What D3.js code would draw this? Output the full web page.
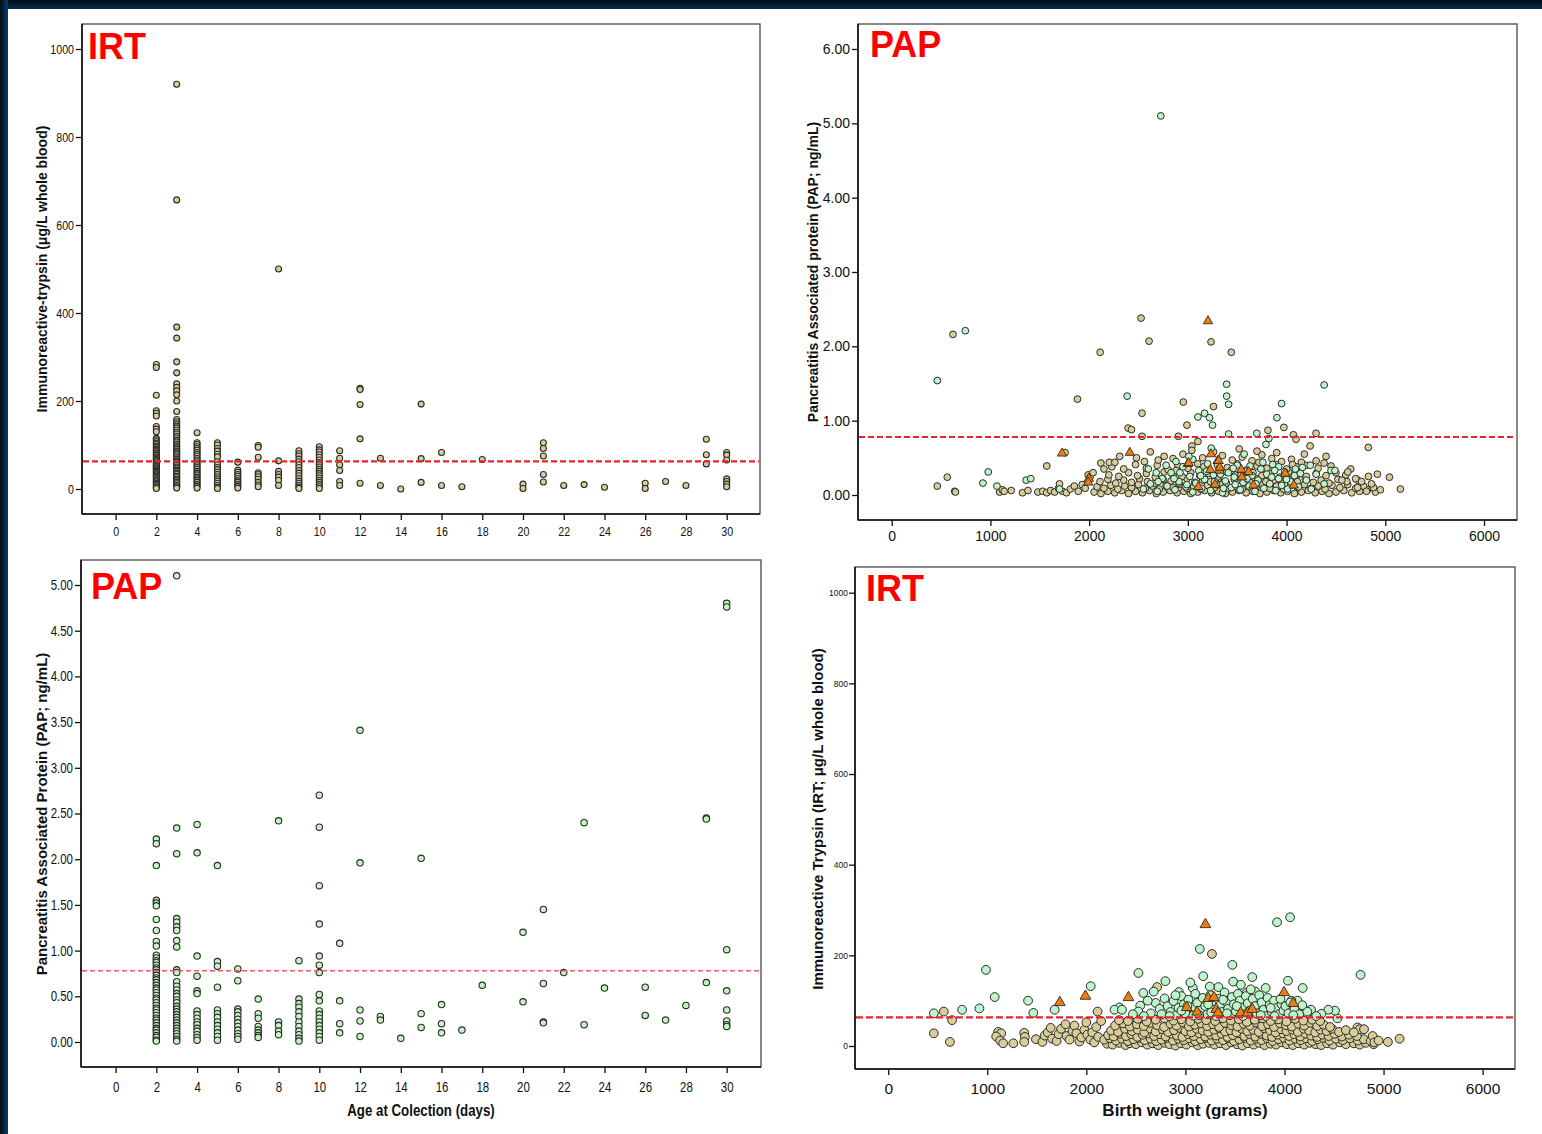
<!DOCTYPE html>
<html><head><meta charset="utf-8">
<script src="https://cdn.jsdelivr.net/npm/d3@7"></script>
<style>
body{margin:0;background:#fff}
svg{display:block}
text{font-family:"Liberation Sans",Arial,sans-serif}
</style>
</head><body><script>
// ---------- Age at collection panels ----------
const ages = [2,3,4,5,6,7,8,9,10,11,12,13,14,15,16,17,18,20,21,22,23,24,26,27,28,29,30];
const ageTicks = d3.range(0, 31, 2);

// IRT (µg/L) per collection age, same order as `ages`
const irtByAge = [
  [283,276,213,178,172,166,142,136,130,115,112,108,104,101,97,94,90,88,85,81,78,76,73,70,67,65,62,59,56,54,51,48,46,43,40,38,35,32,29,27,24,21,19,16,13,11,8,5,3,1],
  [920,657,368,343,289,264,239,231,223,214,200,176,158,153,148,143,139,134,129,125,120,116,111,107,102,98,94,90,86,82,79,75,71,68,64,61,57,54,50,47,43,40,36,33,29,26,22,19,15,12,8,5,2],
  [128,105,101,96,92,88,83,79,75,70,66,62,57,53,49,45,40,36,32,27,23,19,15,10,6,2],
  [105,100,92,86,79,73,62,55,49,44,38,33,28,23,18,13,8,4,1],
  [61,43,38,33,29,24,19,15,10,6,2],
  [99,95,72,37,33,28,22,15,9,5],
  [500,64,40,33,27,20,8],
  [87,80,75,68,62,55,49,42,36,30,24,18,13,8,4,1],
  [96,89,84,78,72,66,60,55,50,45,40,35,30,25,20,15,10,5,1],
  [87,70,55,42,17,8],
  [229,226,192,114,13],
  [70,8],
  [0],
  [193,69,15],
  [83,8],
  [5],
  [67],
  [11,1],
  [105,92,75,33,16],
  [8],
  [10],
  [4],
  [13,1],
  [17],
  [8],
  [113,78,57],
  [83,77,66,23,17,11,5]
];

// PAP (ng/mL) per collection age, same order as `ages`
const papByAge = [
  [2.22,2.17,1.93,1.55,1.52,1.49,1.34,1.22,1.10,1.05,0.95,0.92,0.89,0.87,0.84,0.81,0.79,0.76,0.73,0.70,0.68,0.65,0.62,0.59,0.57,0.54,0.51,0.48,0.46,0.43,0.40,0.37,0.35,0.32,0.29,0.26,0.24,0.21,0.18,0.15,0.13,0.10,0.07,0.05,0.02,0.01],
  [5.10,2.34,2.06,1.35,1.31,1.26,1.22,1.11,1.04,0.79,0.76,0.66,0.61,0.57,0.53,0.50,0.46,0.43,0.39,0.36,0.33,0.30,0.27,0.24,0.21,0.18,0.15,0.12,0.09,0.06,0.03,0.01],
  [2.38,2.07,0.94,0.72,0.56,0.53,0.34,0.30,0.26,0.22,0.19,0.15,0.12,0.08,0.05,0.02],
  [1.93,0.88,0.83,0.60,0.35,0.31,0.27,0.22,0.18,0.14,0.10,0.06,0.02],
  [0.80,0.67,0.36,0.33,0.29,0.25,0.21,0.17,0.13,0.09,0.06,0.03],
  [0.47,0.31,0.26,0.17,0.13,0.10,0.07,0.05],
  [2.42,0.22,0.18,0.12,0.08],
  [0.89,0.47,0.42,0.38,0.33,0.28,0.22,0.17,0.12,0.08,0.04,0.01],
  [2.70,2.35,1.71,1.29,0.94,0.84,0.76,0.52,0.45,0.34,0.30,0.26,0.22,0.18,0.14,0.10,0.06,0.02],
  [1.08,0.45,0.20,0.10],
  [3.41,1.96,0.35,0.23,0.06],
  [0.28,0.24],
  [0.04],
  [2.01,0.31,0.16],
  [0.41,0.20,0.10],
  [0.13],
  [0.62],
  [1.20,0.44],
  [1.45,0.64,0.22,0.21],
  [0.76],
  [2.40,0.19],
  [0.59],
  [0.60,0.29],
  [0.24],
  [0.40],
  [2.45,2.44,0.65],
  [4.80,4.76,1.01,0.56,0.35,0.23,0.19,0.17]
];

// ---------- Birth weight panels: [grams, value] ----------
const weightTicks = [0,1000,2000,3000,4000,5000,6000];

// PAP vs birth weight, IRT-negative newborns
const papWeightNeg = [
  [621,2.16],[2526,2.38],[3235,2.06],[2607,2.07],[2112,1.92],[3440,1.92],[1882,1.29],[2536,1.10],[2395,0.90],[2429,0.88],
  [2536,0.79],[2904,0.79],[2954,1.25],[2991,0.94],[3260,1.19],[3102,0.72],[3041,0.66],[3973,0.91],[3811,0.87],[4069,0.81],
  [4096,0.75],[4299,0.83],[4238,0.66],[4828,0.64],[1756,0.57],[462,0.12],[563,0.24],[638,0.05],[645,0.04],[1093,0.04],
  [1120,0.07],[1140,0.05],[1211,0.06],[1325,0.03],[1571,0.39],[5042,0.24],[5153,0.08],
  [1380,0.06],[1480,0.04],[1530,0.05],[1570,0.03],[1610,0.06],[1650,0.04],[1690,0.09],[1700,0.15],[1730,0.05],[1770,0.03],
  [1810,0.08],[1850,0.12],[1890,0.05],[1930,0.14],[1960,0.09],[1990,0.27],[2010,0.24],[2040,0.30],
  [2050,0.04],[2120,0.02],[2190,0.05],[2260,0.03],[2330,0.06],[2400,0.02],[2470,0.05],[2540,0.03],[2610,0.06],[2680,0.02],
  [2750,0.04],[2820,0.06],[2890,0.03],[2960,0.05],[3030,0.02],[3100,0.04],[3170,0.06],[3240,0.03],[3310,0.05],[3380,0.02],
  [3450,0.04],[3520,0.06],[3590,0.03],[3660,0.05],[3730,0.02],[3800,0.04],[3870,0.06],[3940,0.03],[4010,0.05],[4080,0.02],
  [4150,0.04],[4220,0.06],[4290,0.03],[4360,0.05],[4430,0.02],[4500,0.04],[4580,0.06],[4660,0.03],[4740,0.05],[4820,0.07],[4900,0.04],
  [2080,0.11],[2150,0.09],[2220,0.13],[2290,0.08],[2360,0.12],[2430,0.10],[2500,0.14],[2570,0.09],[2640,0.12],[2710,0.08],
  [2780,0.13],[2850,0.10],[2920,0.14],[2990,0.09],[3060,0.11],[3130,0.08],[3200,0.13],[3270,0.10],[3340,0.14],[3410,0.09],
  [3480,0.12],[3550,0.08],[3620,0.13],[3690,0.10],[3760,0.14],[3830,0.09],[3900,0.12],[3970,0.08],[4040,0.13],[4110,0.10],
  [4180,0.14],[4250,0.09],[4320,0.12],[4390,0.08],[4460,0.13],[4540,0.10],[4620,0.14],[4700,0.09],[4780,0.12],[4880,0.10],
  [2110,0.18],[2190,0.21],[2270,0.16],[2350,0.20],[2430,0.17],[2510,0.22],[2590,0.18],[2670,0.16],[2750,0.21],[2830,0.19],
  [2910,0.16],[2990,0.22],[3070,0.17],[3150,0.20],[3230,0.18],[3310,0.22],[3390,0.16],[3470,0.21],[3550,0.19],[3630,0.17],
  [3710,0.22],[3790,0.18],[3870,0.20],[3950,0.16],[4030,0.21],[4110,0.18],[4190,0.22],[4270,0.17],[4350,0.20],[4430,0.16],
  [4520,0.21],[4610,0.18],[4720,0.20],
  [2200,0.27],[2300,0.25],[2400,0.30],[2490,0.26],[2580,0.29],[2670,0.24],[2760,0.31],[2850,0.27],[2940,0.25],[3030,0.30],
  [3120,0.26],[3210,0.29],[3300,0.24],[3390,0.31],[3480,0.27],[3570,0.25],[3660,0.30],[3750,0.26],[3840,0.29],[3930,0.24],
  [4020,0.31],[4110,0.27],[4200,0.25],[4300,0.29],[4400,0.26],[4500,0.30],[4600,0.27],
  [2230,0.38],[2350,0.35],[2470,0.41],[2580,0.36],[2690,0.40],[2800,0.34],[2900,0.39],[3000,0.36],[3100,0.42],[3200,0.35],
  [3300,0.40],[3400,0.37],[3500,0.42],[3600,0.34],[3700,0.39],[3800,0.36],[3900,0.41],[4000,0.35],[4100,0.38],[4200,0.40],
  [4320,0.36],[4450,0.39],
  [2119,0.43],[2204,0.44],[2261,0.44],[2700,0.47],[2760,0.52],[2850,0.49],[2950,0.55],[3150,0.50],[3350,0.53],[3450,0.47],
  [3550,0.51],[3650,0.46],[3750,0.54],[3850,0.49],[3950,0.45],[4050,0.48],[4150,0.44],[4300,0.46],
  [4700,0.22],[4760,0.18],[4810,0.05],[4860,0.15],[4920,0.28],[4950,0.07],[4650,0.35],[4560,0.20],[4720,0.10],
  [2310,0.52],[2480,0.50],[2620,0.58],[3040,0.60],[3260,0.58],[3520,0.62],[3700,0.59],[3900,0.57],[4180,0.55],[4400,0.52],
  [2560,0.45],[2880,0.33],[3160,0.38],[3440,0.33],[3720,0.44],[4060,0.41],[4380,0.43],[4620,0.31],[2150,0.35],[4830,0.25]
];

// PAP vs birth weight, IRT-positive newborns
const papWeightPos = [
  [2726,5.10],[746,2.21],[462,1.54],[2385,1.33],[3102,1.05],[3169,1.10],[3220,1.04],[3250,0.94],[3393,1.49],[3393,1.33],
  [3413,1.22],[4381,1.48],[3949,1.23],[3902,1.04],[3699,0.83],[3413,0.82],[3791,0.68],[3821,0.76],[978,0.31],[924,0.16],
  [1066,0.12],[1362,0.20],[1409,0.22],[3237,0.63],[1700,0.08],
  [2550,0.08],[2620,0.15],[2690,0.05],[2740,0.22],[2790,0.12],[2830,0.30],[2870,0.07],[2910,0.18],[2950,0.38],[2980,0.11],
  [3020,0.25],[3050,0.04],[3080,0.16],[3110,0.33],[3140,0.09],[3170,0.21],[3200,0.42],[3230,0.06],[3260,0.27],[3290,0.14],
  [3320,0.36],[3350,0.03],[3380,0.19],[3410,0.30],[3440,0.10],[3470,0.24],[3500,0.40],[3530,0.07],[3560,0.17],[3590,0.32],
  [3620,0.12],[3650,0.26],[3680,0.05],[3710,0.20],[3740,0.35],[3770,0.09],[3800,0.28],[3830,0.15],[3860,0.41],[3890,0.06],
  [3920,0.22],[3950,0.13],[3980,0.31],[4010,0.08],[4040,0.18],[4080,0.26],[4120,0.11],[4160,0.37],[4200,0.20],[4250,0.08],
  [4300,0.28],[4380,0.15],[4450,0.33],[4490,0.33],[2600,0.35],[2880,0.45],[3050,0.48],[3330,0.28],[3480,0.14],[3600,0.22],
  [3760,0.44],[3920,0.38],[2780,0.40],[2680,0.30],
  [2860,0.22],[2990,0.14],[3130,0.26],[3270,0.18],[3360,0.09],[3540,0.27],[3690,0.15],[3850,0.24],[4000,0.21],[4140,0.29],
  [2920,0.30],[3190,0.32],[3460,0.36],[3630,0.39],[3880,0.33],[4090,0.35],[3010,0.52],[3570,0.55],[4240,0.40],[2700,0.18]
];

// PAP vs birth weight, cystic fibrosis cases
const papWeightCF = [
  [3204,2.34],[2412,0.57],[1726,0.56],[3234,0.55],[1997,0.22],[1991,0.17],[3001,0.42],[3106,0.11],[3275,0.14],[3302,0.46],
  [3008,0.43],[3228,0.34],[3312,0.46],[3323,0.33],[3323,0.37],[3541,0.34],[3548,0.24],[3615,0.31],[3665,0.13],[3986,0.29],[4073,0.13]
];

// IRT vs birth weight, PAP-negative newborns
const irtWeightNeg = [
  [461,28],[623,9],[645,57],[561,76],[1110,31],[1140,28],[1090,21],[1130,12],[1160,6],[1263,6],[1373,29],[1380,20],[1373,9],
  [1491,15],[1557,9],[1580,23],[1610,30],[1640,40],[1655,16],[1700,11],[1720,26],[1745,38],[1790,48],[1800,22],[1830,14],
  [1860,33],[1880,45],[1900,28],[1930,10],[1950,19],[1980,36],[2000,52],[2010,25],[2040,14],[2060,30],[2080,8],[2100,42],
  [2120,20],[2150,55],[2114,76],[2715,130],[3268,203],
  [2210,5],[2265,3],[2330,7],[2395,2],[2440,6],[2500,4],[2560,8],[2615,3],[2670,6],[2725,2],[2790,7],[2840,4],[2900,1],
  [2955,6],[3010,3],[3070,8],[3125,2],[3180,5],[3240,7],[3295,3],[3350,6],[3410,2],[3460,8],[3520,4],[3575,1],[3630,6],
  [3690,3],[3745,7],[3800,2],[3860,5],[3915,3],[3970,8],[4025,4],[4085,2],[4140,6],[4200,3],[4255,7],[4315,4],[4370,2],
  [4430,6],[4490,3],[4560,8],[4620,4],[4700,6],[4760,3],[4820,7],[4900,4],
  [2180,14],[2240,17],[2300,12],[2360,16],[2420,11],[2475,15],[2535,18],[2590,13],[2650,16],[2705,11],[2760,14],[2815,18],
  [2875,12],[2930,16],[2985,13],[3040,17],[3100,11],[3155,15],[3210,18],[3265,12],[3320,16],[3380,13],[3435,17],[3490,11],
  [3545,15],[3600,18],[3660,12],[3715,16],[3770,13],[3825,17],[3880,11],[3940,15],[3995,18],[4050,12],[4110,16],[4165,13],
  [4220,17],[4280,11],[4335,15],[4395,18],[4455,12],[4520,16],[4590,13],[4660,17],[4740,12],[4800,15],[4870,11],
  [2220,24],[2275,21],[2340,27],[2400,22],[2455,26],[2515,20],[2570,25],[2630,28],[2685,22],[2745,26],[2800,21],[2860,27],
  [2915,23],[2970,20],[3030,26],[3085,22],[3140,28],[3200,21],[3255,25],[3310,23],[3365,27],[3425,20],[3480,24],[3535,28],
  [3595,22],[3650,26],[3705,21],[3760,27],[3820,23],[3875,20],[3930,25],[3985,28],[4045,22],[4100,26],[4160,21],[4215,27],
  [4270,23],[4330,20],[4385,25],[4445,22],[4505,27],[4580,21],[4650,25],[4730,22],
  [2250,34],[2320,31],[2390,38],[2460,33],[2520,36],[2585,30],[2645,39],[2700,32],[2770,37],[2825,31],[2885,35],[2945,40],
  [3000,33],[3060,30],[3115,38],[3175,34],[3230,31],[3290,36],[3345,39],[3400,32],[3455,35],[3515,30],[3570,38],[3625,33],
  [3685,36],[3740,31],[3795,39],[3855,34],[3910,30],[3965,37],[4020,33],[4080,36],[4135,31],[4195,38],[4250,34],[4310,30],
  [4365,36],[4425,33],[4480,38],[4550,31],[4620,35],
  [2290,45],[2370,50],[2440,43],[2510,48],[2580,44],[2650,51],[2715,46],[2785,42],[2850,49],[2910,45],[2975,52],[3035,43],
  [3095,47],[3160,50],[3220,44],[3280,48],[3340,42],[3400,51],[3465,46],[3525,43],[3590,49],[3650,45],[3710,52],[3775,44],
  [3835,48],[3895,42],[3955,50],[4015,46],[4075,43],[4140,49],[4200,45],[4265,51],[4330,44],[4395,47],[4460,42],
  [2330,57],[2420,55],[2520,60],[2610,54],[2700,58],[2790,61],[2880,56],[2960,59],[3050,54],[3130,60],[3210,57],[3300,55],
  [3380,61],[3460,56],[3540,59],[3620,53],[3700,58],[3780,61],[3860,55],[3940,59],[4020,54],[4110,60],[4190,56],[4280,58],[4360,55],
  [4737,41],[4760,37],[4803,37],[4890,22],[4908,8],[5044,9],[5162,16],[4950,12],[4700,30]
];

// IRT vs birth weight, PAP-positive newborns
const irtWeightPos = [
  [4057,284],[3925,273],[3145,214],[987,168],[3474,179],[4768,157],[2526,161],[3675,152],[2798,143],[4035,144],[2044,132],
  [3482,142],[3180,154],[4184,128],[3075,128],[3333,130],[3246,131],[2575,117],[2934,119],[1075,108],[3706,120],[3618,117],
  [1412,100],[746,80],[921,83],[461,72],[1465,73],[1680,80],[2333,85],[2285,80],[2360,80],[2544,89],[2526,76],[4535,61],
  [4510,78],[4443,80],[4373,71],[4268,80],[4197,80],[4132,100],[4070,100],
  [2700,95],[2740,82],[2760,70],[2790,105],[2820,88],[2850,75],[2880,99],[2905,68],[2930,84],[2960,110],[2985,92],[3000,72],
  [3030,102],[3060,85],[3080,67],[3100,115],[3120,95],[3150,78],[3175,106],[3200,88],[3220,70],[3250,112],[3270,96],[3290,80],
  [3310,66],[3330,104],[3350,90],[3370,75],[3395,118],[3410,98],[3430,82],[3450,68],[3470,108],[3490,92],[3510,76],[3530,115],
  [3550,100],[3570,85],[3590,70],[3610,110],[3630,94],[3650,78],[3680,104],[3700,88],[3720,72],[3745,112],[3770,96],[3790,80],
  [3810,66],[3830,106],[3850,90],[3870,75],[3895,100],[3920,84],[3945,70],[3970,92],[3990,78],[4010,88],[4040,72],[4060,96],
  [4100,82],[4150,70],[4230,76],[2650,72],[2620,100],[2680,120],
  [2840,66],[2960,78],[3140,68],[3260,74],[3420,72],[3580,66],[3760,68],[3900,66],[4090,68],[4320,66],[2580,66],[2470,70],
  [3020,88],[3230,92],[3520,88],[3860,84],[4180,90],[3380,102],[3960,104],[2900,112],[3660,125],[3560,135],[3810,128],[3050,140]
];

// IRT vs birth weight, cystic fibrosis cases
const irtWeightCF = [
  [3202,268],[1991,110],[2425,107],[3996,118],[1732,96],[4088,94],[3013,85],[3118,75],[3232,105],[3289,107],
  [3311,81],[3329,73],[3557,73],[3627,73],[3675,81]
];

const irtCutoff = 63;   // µg/L
const papCutoff = 0.78; // ng/mL

// ---------- drawing ----------
const W = 1542, H = 1134;
const svg = d3.select("body").append("svg").attr("width", W).attr("height", H);
svg.append("rect").attr("width", W).attr("height", H).attr("fill", "#fff");

// dark slide edge
const defs = svg.append("defs");
const lg = defs.append("linearGradient").attr("id", "edgeL").attr("x1", 0).attr("x2", 1).attr("y1", 0).attr("y2", 0);
lg.append("stop").attr("offset", 0).attr("stop-color", "#000c18");
lg.append("stop").attr("offset", 1).attr("stop-color", "#0a3c6a");
const tg = defs.append("linearGradient").attr("id", "edgeT").attr("x1", 0).attr("x2", 0).attr("y1", 0).attr("y2", 1);
tg.append("stop").attr("offset", 0).attr("stop-color", "#000a14");
tg.append("stop").attr("offset", 1).attr("stop-color", "#052a4c");
svg.append("rect").attr("x", 0).attr("y", 0).attr("width", W).attr("height", 9).attr("fill", "url(#edgeT)");
svg.append("rect").attr("x", 0).attr("y", 0).attr("width", 8).attr("height", H).attr("fill", "url(#edgeL)");

const TAN = "#d8cd98", MINT = "#bdf4c9", PALEGREEN = "#c4f4c0", ORANGE = "#f07d0a", EDGE = "#2a2a2a";

function panel(o) {
  const g = svg.append("g");
  const x = d3.scaleLinear().domain(o.xCal).range(o.xPix);
  const y = d3.scaleLinear().domain(o.yCal).range(o.yPix);

  // points
  o.series.forEach(s => {
    if (s.shape === "triangle") {
      g.append("g").selectAll("path").data(s.data).join("path")
        .attr("transform", d => `translate(${x(d[0])},${y(d[1])})`)
        .attr("d", d3.symbol(d3.symbolTriangle, s.size))
        .attr("fill", s.fill).attr("stroke", EDGE).attr("stroke-width", 0.9);
    } else {
      g.append("g").selectAll("circle").data(s.data).join("circle")
        .attr("cx", d => x(d[0])).attr("cy", d => y(d[1])).attr("r", s.r)
        .attr("fill", s.fill).attr("stroke", EDGE).attr("stroke-width", s.sw || 1);
    }
  });

  // cut-off reference line
  g.append("line")
    .attr("x1", o.left + 1).attr("x2", o.right - 1)
    .attr("y1", y(o.cutoff)).attr("y2", y(o.cutoff))
    .attr("stroke", o.cutColor).attr("stroke-width", o.cutWidth).attr("stroke-dasharray", o.cutDash);

  // frame
  g.append("rect").attr("x", o.left).attr("y", o.top)
    .attr("width", o.right - o.left).attr("height", o.bottom - o.top)
    .attr("fill", "none").attr("stroke", "#555").attr("stroke-width", 1.4);
  g.append("line").attr("x1", o.left).attr("x2", o.left).attr("y1", o.top).attr("y2", o.bottom)
    .attr("stroke", "#111").attr("stroke-width", 1.6);
  g.append("line").attr("x1", o.left).attr("x2", o.right).attr("y1", o.bottom).attr("y2", o.bottom)
    .attr("stroke", "#111").attr("stroke-width", 1.6);

  // axes
  const ya = g.append("g").attr("transform", `translate(${o.left},0)`)
    .call(d3.axisLeft(y).tickValues(o.yTicks).tickFormat(o.yFmt).tickSize(6).tickPadding(o.yPad));
  const xa = g.append("g").attr("transform", `translate(0,${o.bottom})`)
    .call(d3.axisBottom(x).tickValues(o.xTicks).tickFormat(d3.format("d")).tickSize(6).tickPadding(o.xPad));
  [ya, xa].forEach(a => {
    a.select(".domain").remove();
    a.selectAll(".tick line").attr("stroke", "#111").attr("stroke-width", 1.3);
    a.selectAll(".tick text").attr("fill", "#111").attr("font-family", "Liberation Sans, Arial, sans-serif");
  });
  ya.selectAll(".tick text").attr("font-size", o.yFont);
  xa.selectAll(".tick text").attr("font-size", o.xFont);
  if (o.squeeze) {
    ya.selectAll(".tick text").attr("transform", `scale(${o.squeeze},1)`)
      .attr("x", -(6 + o.yPad) / o.squeeze);
    xa.selectAll(".tick text").attr("transform", `scale(${o.squeeze},1)`);
  }

  // y title
  g.append("text")
    .attr("transform", `translate(${o.yTitleX},${o.yTitleY}) rotate(-90)`)
    .attr("text-anchor", "middle").attr("font-weight", "bold")
    .attr("font-size", o.yTitleSize).attr("fill", "#111").text(o.yTitle);

  // x title
  if (o.xTitle) {
    g.append("text")
      .attr("transform", `translate(${o.xTitleX},${o.xTitleY}) scale(${o.xTitleSqueeze || 1},1)`)
      .attr("text-anchor", "middle").attr("font-weight", "bold")
      .attr("font-size", o.xTitleSize).attr("fill", "#111").text(o.xTitle);
  }

  // panel tag
  g.append("text").attr("x", o.tagX).attr("y", o.tagY)
    .attr("font-size", 36).attr("font-weight", "bold").attr("fill", "#ff0000").text(o.tag);
}

const pairsByAge = vals => d3.merge(ages.map((a, i) => vals[i].map(v => [a, v])));

// IRT by age
panel({
  left: 82, right: 760, top: 24, bottom: 514,
  xCal: [0, 30], xPix: [115.6, 726.7], yCal: [0, 1000], yPix: [489, 49],
  xTicks: ageTicks, yTicks: [0,200,400,600,800,1000], yFmt: d3.format("d"),
  yFont: 13, xFont: 13, squeeze: 0.82, yPad: 2, xPad: 7,
  series: [{ data: pairsByAge(irtByAge), r: 3, fill: TAN, sw: 1.1 }],
  cutoff: irtCutoff, cutColor: "#e8232c", cutWidth: 2.2, cutDash: "6,3",
  yTitle: "Immunoreactive-trypsin (\u03bcg/L whole blood)", yTitleX: 47, yTitleY: 269, yTitleSize: 14,
  tag: "IRT", tagX: 88, tagY: 59
});

// PAP by age
panel({
  left: 81, right: 761, top: 560, bottom: 1067,
  xCal: [0, 30], xPix: [115.6, 726.7], yCal: [0, 5], yPix: [1042, 585],
  xTicks: ageTicks, yTicks: d3.range(0, 5.01, 0.5), yFmt: d3.format(".2f"),
  yFont: 14, xFont: 14, squeeze: 0.82, yPad: 2, xPad: 9,
  series: [{ data: pairsByAge(papByAge), r: 3.2, fill: PALEGREEN, sw: 1.1 }],
  cutoff: papCutoff, cutColor: "#f0585c", cutWidth: 1.6, cutDash: "5,3",
  yTitle: "Pancreatitis Associated Protein (PAP; ng/mL)", yTitleX: 47, yTitleY: 814, yTitleSize: 15,
  xTitle: "Age at Colection (days)", xTitleX: 421, xTitleY: 1116, xTitleSize: 16, xTitleSqueeze: 0.83,
  tag: "PAP", tagX: 91, tagY: 599
});

// PAP by birth weight
panel({
  left: 858, right: 1517, top: 24, bottom: 520,
  xCal: [0, 6000], xPix: [891.7, 1484], yCal: [0, 6], yPix: [495, 49],
  xTicks: weightTicks, yTicks: [0,1,2,3,4,5,6], yFmt: d3.format(".2f"),
  yFont: 14, xFont: 14, yPad: 2, xPad: 5,
  series: [
    { data: papWeightNeg, r: 3.4, fill: TAN },
    { data: papWeightPos, r: 3.4, fill: MINT },
    { data: papWeightCF, shape: "triangle", size: 38, fill: ORANGE }
  ],
  cutoff: papCutoff, cutColor: "#e8232c", cutWidth: 2, cutDash: "6,3",
  yTitle: "Pancreatitis Associated protein (PAP; ng/mL)", yTitleX: 818, yTitleY: 272, yTitleSize: 14,
  tag: "PAP", tagX: 870, tagY: 57
});

// IRT by birth weight
panel({
  left: 855, right: 1515, top: 567, bottom: 1069,
  xCal: [0, 6000], xPix: [888.2, 1482.6], yCal: [0, 1000], yPix: [1046, 592.7],
  xTicks: weightTicks, yTicks: [0,200,400,600,800,1000], yFmt: d3.format("d"),
  yFont: 8.5, xFont: 15.5, yPad: 1, xPad: 8,
  series: [
    { data: irtWeightNeg, r: 4.4, fill: TAN },
    { data: irtWeightPos, r: 4.4, fill: MINT },
    { data: irtWeightCF, shape: "triangle", size: 50, fill: ORANGE }
  ],
  cutoff: irtCutoff, cutColor: "#e8232c", cutWidth: 2.2, cutDash: "7,3",
  yTitle: "Immunoreactive Trypsin (IRT; \u03bcg/L whole blood)", yTitleX: 823, yTitleY: 819, yTitleSize: 15,
  xTitle: "Birth weight (grams)", xTitleX: 1185, xTitleY: 1116, xTitleSize: 17,
  tag: "IRT", tagX: 866, tagY: 601
});
</script></body></html>
